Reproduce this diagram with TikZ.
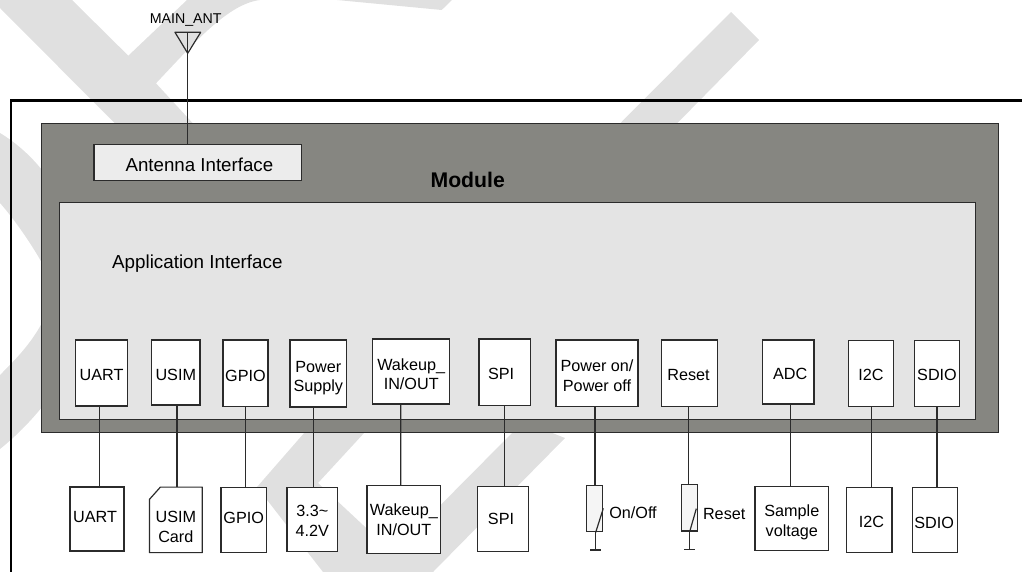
\documentclass[tikz,border=0pt]{standalone}
\usepackage{fontspec}
\setmainfont{Liberation Sans}
\definecolor{markgray}{HTML}{E0E0E0}
\definecolor{modgray}{HTML}{868681}
\definecolor{appgray}{HTML}{E4E4E4}
\definecolor{linegray}{HTML}{2B2B2B}
% zero width rules that move a text down or up inside its box
\newcommand{\pushdown}[1]{\rule{0pt}{#1pt}}
\newcommand{\pushup}[1]{\rule[-#1pt]{0pt}{#1pt}}
\tikzset{
  iobox/.style={draw=linegray,fill=white,line width=1.2pt,inner sep=0pt,align=center,
    font=\fontsize{16.2}{19.5}\selectfont},
  swbox/.style={draw=linegray,fill=black!4,line width=1.2pt,inner sep=0pt,
    minimum width=16pt,minimum height=46.5pt},
  link/.style={draw=linegray,line width=1.2pt},
  lbl/.style={inner sep=0pt,font=\fontsize{16.2}{19.5}\selectfont},
}
\begin{document}
\begin{tikzpicture}[x=1pt,y=-1pt]
  \useasboundingbox (0,0) rectangle (1022,572);

  % watermark
  \fill[markgray] (0,0) -- (72,0) -- (128.3,55.7) -- (187,0) -- (260,0)
    .. controls (228,4) and (195,42) .. (156,83.3) -- (193,123.5) -- (115,123.5) -- (0,8) -- cycle;
  \fill[markgray] (337,0) -- (441.7,10) -- (452,0) -- cycle;
  \fill[markgray] (731,12) -- (759,40) -- (677,123.5) -- (620,123.5) -- cycle;
  \fill[markgray] (0,133) .. controls (15,142) and (30,155) .. (42,170) -- (42,263)
    .. controls (32,245) and (15,220) .. (0,203) -- cycle;
  \fill[markgray] (42,323) .. controls (30,345) and (15,360) .. (0,375) -- (0,449)
    .. controls (15,437) and (30,422) .. (42,407) -- cycle;
  \fill[markgray] (305,432) -- (365,432) -- (318,483) -- (393,553) -- (513,432) -- (550,432)
    -- (565,438) -- (433,572) -- (323,572) -- (257,487) -- cycle;

  % outer frame
  \draw[line width=2.4pt,line cap=butt] (1022,100.7) -- (10.7,100.7) -- (10.7,572);

  % module
  \node[draw=linegray,fill=modgray,line width=1.2pt,inner sep=0pt,minimum width=957pt,minimum height=309pt]
    (module) at (519.8,277.8) {};
  \node[draw=linegray,fill=appgray,line width=1.2pt,inner sep=0pt,minimum width=916pt,minimum height=216.6pt]
    (appif) at (517.3,311) {};
  \node[draw=linegray,fill=appgray!70!white,line width=1.2pt,inner sep=0pt,minimum width=207.7pt,minimum height=36.4pt,
    font=\fontsize{18.7}{22}\selectfont] (antif) at (197.9,162.5) {\pushdown{18.5}\hspace*{3pt}Antenna Interface};
  \node[inner sep=0pt,font=\fontsize{21.2}{25}\selectfont\bfseries] (modname) at (467.7,180) {Module};
  \node[inner sep=0pt,anchor=west,font=\fontsize{18.8}{22}\selectfont] (appname) at (112,264) {Application Interface};

  % antenna
  \node[inner sep=0pt,font=\fontsize{14.2}{17}\selectfont] (antname) at (185.7,20) {MAIN\_ANT};
  \coordinate (anttop) at (187.7,32.3);
  \coordinate (anttip) at (187.7,53.3);
  \draw[link,line join=round] (175,32.3) -- (200.7,32.3) -- (anttip) -- cycle;
  \draw[link] (anttop) -- ([xshift=-10.2pt]antif.north);

  % interfaces of the module
  \node[iobox,minimum width=52pt,minimum height=66pt] (uart) at (101.5,373) {\pushdown{16}UART};
  \node[iobox,minimum width=48.5pt,minimum height=65pt] (usim) at (175.75,372.5) {\pushdown{16}USIM};
  \node[iobox,minimum width=45pt,minimum height=66.5pt] (gpio) at (245.5,373.2) {\pushdown{17}GPIO};
  \node[iobox,minimum width=56.7pt,minimum height=67pt] (power) at (318.3,373.5) {\pushdown{20}Power\\Supply};
  \node[iobox,minimum width=77pt,minimum height=65pt] (wakeup) at (411.2,371.5) {\pushdown{17}Wakeup\_\\IN/OUT};
  \node[iobox,minimum width=51.7pt,minimum height=66.3pt] (spi) at (504.8,372.2) {\pushdown{14}SPI\hspace*{7.5pt}};
  \node[iobox,minimum width=82pt,minimum height=66.3pt] (pwrkey) at (597,373.2) {\pushdown{17}Power on/\\Power off};
  \node[iobox,minimum width=55.6pt,minimum height=66.5pt] (reset) at (689.5,373.2) {\pushdown{14}Reset\hspace*{2pt}};
  \node[iobox,minimum width=51.7pt,minimum height=64pt] (adc) at (788.2,372) {\pushdown{16}\hspace*{4pt}ADC};
  \node[iobox,minimum width=45.4pt,minimum height=65.6pt] (itwoc) at (871,373.5) {\pushdown{14}I2C};
  \node[iobox,minimum width=45.4pt,minimum height=65.6pt] (sdio) at (937,373.5) {\pushdown{14}SDIO};

  % what is connected to them
  \node[iobox,minimum width=54pt,minimum height=64pt] (uartext) at (97,519) {\pushup{5}UART\hspace*{4pt}};
  \node[iobox,draw=none,fill=none,minimum width=51.7pt,minimum height=64.3pt] (usimcard) at (175.85,519.85)
    {\pushdown{25}USIM\\Card};
  \draw[link,line join=round] ([xshift=11pt]usimcard.north west) -- (usimcard.north east) -- (usimcard.south east)
    -- (usimcard.south west) -- ([yshift=-12.3pt]usimcard.north west) -- cycle;
  \node[iobox,minimum width=45.3pt,minimum height=64.6pt] (gpioext) at (243.65,520) {\pushup{5.2}GPIO};
  \node[iobox,minimum width=50.5pt,minimum height=63.6pt] (supply) at (312.25,519.5) {\pushdown{14}3.3\textasciitilde\\4.2V};
  \node[iobox,minimum width=73.7pt,minimum height=67.6pt] (wakeupext) at (403.85,519.5) {Wakeup\_\\IN/OUT};
  \node[iobox,minimum width=51.4pt,minimum height=65pt] (spiext) at (503,518.8) {SPI\hspace*{4pt}};
  \node[swbox] (swon) at (594.8,508.5) {};
  \node[lbl] (onname) at (633,512.7) {On/Off};
  \node[swbox] (swreset) at (689.5,507.8) {};
  \node[lbl] (resetname) at (724.2,514) {Reset};
  \node[iobox,minimum width=73.7pt,minimum height=63.6pt] (sample) at (791.85,518.5) {\pushdown{19}Sample\\voltage};
  \node[iobox,minimum width=45.3pt,minimum height=64.6pt] (itwocext) at (869.35,520) {\pushdown{16}\hspace*{4pt}I2C};
  \node[iobox,minimum width=45pt,minimum height=64.6pt] (sdioext) at (935.2,520) {\pushdown{18}SDIO\hspace*{2pt}};

  % grounds of the two switches
  \coordinate (gndon) at (595.7,550);
  \coordinate (gndreset) at (689.7,549.3);
  \draw[link] ([xshift=.9pt]swon.south) -- (gndon);
  \draw[link] ([xshift=-5.5pt]gndon) -- ([xshift=5.5pt]gndon);
  \draw[link] ([xshift=.9pt]swon.south) -- ++(7.6,-24);
  \draw[link] ([xshift=.2pt]swreset.south) -- (gndreset);
  \draw[link] ([xshift=-5.5pt]gndreset) -- ([xshift=5.5pt]gndreset);
  \draw[link] ([xshift=.2pt]swreset.south) -- ++(6.6,-23);

  % connectors
  \draw[link] ([xshift=-2.2pt]uart.south) -- ([xshift=2.3pt]uartext.north);
  \draw[link] ([xshift=1.25pt]usim.south) -- ([xshift=1.15pt]usimcard.north);
  \draw[link] ([xshift=.2pt]gpio.south) -- ([xshift=2.05pt]gpioext.north);
  \draw[link] ([xshift=-5pt]power.south) -- ([xshift=1.05pt]supply.north);
  \draw[link] ([xshift=-10.5pt]wakeup.south) -- ([xshift=-3.15pt]wakeupext.north);
  \draw[link] ([xshift=-.5pt]spi.south) -- ([xshift=1.3pt]spiext.north);
  \draw[link] ([xshift=-2pt]pwrkey.south) -- ([xshift=.2pt]swon.north);
  \draw[link] ([xshift=-.8pt]reset.south) -- ([xshift=-.8pt]swreset.north);
  \draw[link] ([xshift=2.1pt]adc.south) -- ([xshift=-1.55pt]sample.north);
  \draw[link] ([xshift=.3pt]itwoc.south) -- ([xshift=1.95pt]itwocext.north);
  \draw[link] (sdio.south) -- ([xshift=1.8pt]sdioext.north);

\end{tikzpicture}
\end{document}
